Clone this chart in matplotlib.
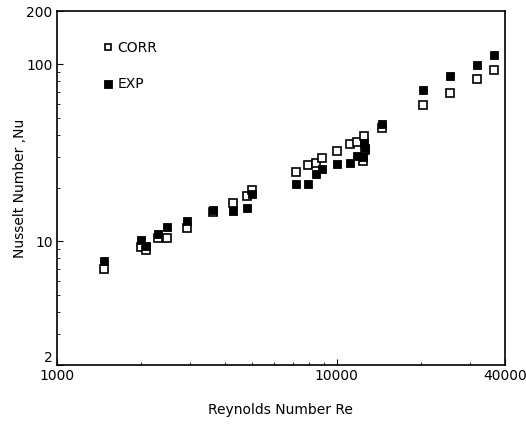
import matplotlib
matplotlib.use("Agg")
import matplotlib.pyplot as plt
from matplotlib.ticker import NullFormatter, LogLocator

# Reynolds number for each measurement
re = [1470, 2000, 2080, 2300, 2470, 2920, 3610, 4260, 4780, 4980,
      7160, 7900, 8440, 8870, 10030, 11170, 11830, 12430, 12530, 12640,
      14540, 20370, 25440, 31780, 36560]
# measured Nusselt number
nu_exp = [7.74, 10.17, 9.40, 10.99, 12.04, 13.02, 15.02, 14.83, 15.42, 18.50,
          21.07, 21.07, 23.99, 25.60, 27.33, 27.68, 30.33, 29.93, 35.92, 33.65,
          45.98, 71.56, 85.86, 99.06, 112.8]
# correlation
nu_corr = [6.97, 9.28, 8.93, 10.43, 10.43, 11.89, 14.63, 16.45, 18.02, 19.49,
           24.63, 26.97, 27.68, 29.55, 32.36, 35.45, 36.39, 28.41, 39.34, 32.79,
           43.65, 58.88, 68.81, 82.57, 92.85]

xticks = [1000, 10000, 40000]
yticks = [2, 10, 100, 200]

plt.rcParams['font.family'] = ['DejaVu Sans']

fig = plt.figure(figsize=(5.26, 4.24), dpi=100)
ax = fig.add_axes([0.108, 0.139, 0.852, 0.835])

ax.plot(re, nu_corr, ls='none', marker='s', ms=5.5, mfc='white', mec='black',
        mew=1.2, label='CORR')
ax.plot(re, nu_exp, ls='none', marker='s', ms=6, mfc='black', mec='black',
        mew=0.6, label='EXP')

ax.set_xscale('log')
ax.set_yscale('log')
ax.set_xlim(1000, 40000)
ax.set_ylim(2, 200)

ax.set_xticks(xticks, labels=[str(t) for t in xticks])
ax.set_yticks(yticks, labels=[str(t) for t in yticks])
ax.xaxis.set_minor_locator(LogLocator(base=10, subs=range(2, 10)))
ax.yaxis.set_minor_locator(LogLocator(base=10, subs=range(2, 10)))
ax.xaxis.set_minor_formatter(NullFormatter())
ax.yaxis.set_minor_formatter(NullFormatter())
ax.tick_params(which='major', direction='in', length=4, width=0.8, labelsize=10, pad=3)
ax.tick_params(which='minor', direction='in', length=2, width=0.6)

# the bottom y label sits just above the axis line, clear of "1000"
for lbl in ax.get_yticklabels():
    if lbl.get_text() == '2':
        lbl.set_va('bottom')

for s in ax.spines.values():
    s.set_linewidth(1.2)

ax.set_xlabel('Reynolds Number Re', fontsize=10, labelpad=14)
ax.set_ylabel('Nusselt Number ,Nu', fontsize=10)
ax.yaxis.set_label_coords(-0.067, 0.5)

ax.legend(loc='upper left', bbox_to_anchor=(0.07, 0.95), frameon=False,
          fontsize=10, handletextpad=0.2, labelspacing=1.6, handlelength=1.0,
          markerscale=0.9)

fig.savefig('out.png', dpi=100)
